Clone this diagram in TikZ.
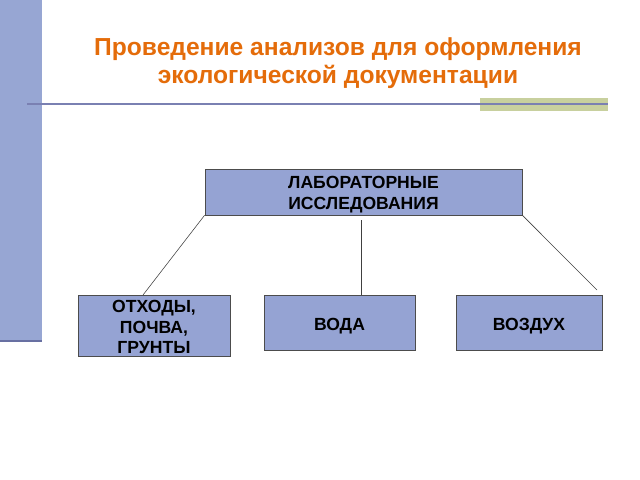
\documentclass[tikz,border=0pt]{standalone}
\usepackage{fontspec}
\setmainfont{Liberation Sans}
\definecolor{titleOrange}{RGB}{228,108,10}
\definecolor{boxBlue}{RGB}{149,163,211}
\definecolor{barBlue}{RGB}{151,166,211}
\definecolor{barEdge}{RGB}{104,112,162}
\definecolor{ruleBlue}{RGB}{122,128,178}
\definecolor{ruleGreen}{RGB}{200,208,158}

\begin{document}
\begin{tikzpicture}[%%
  x=0.025cm,y=-0.025cm,%%
  boxStyle/.style={draw=black!70,fill=boxBlue,inner sep=0pt,align=center,%%
    font=\fontsize{12.5}{14.5}\selectfont\bfseries},%%
  titleStyle/.style={text=titleOrange,align=center,%%
    font=\fontsize{17.5}{20}\selectfont\bfseries},%%
  lineStyle/.style={-,black!75,thin}%%
]
%%
\useasboundingbox (0,0) rectangle (640,480);
%%
%% The bar at the left edge.
\fill[barBlue] (0,0) rectangle (42,341);
\draw[barEdge,line width=1.4pt] (0,341) -- (42,341);
%%
%% The rule under the title.
\fill[ruleGreen] (480,98) rectangle (608,111);
\draw[ruleBlue,line width=0.8pt] (27,104) -- (608,104);
%%
%% The title.
\node[titleStyle] (title) at (338,63)
  {Проведение анализов для оформления\\экологической документации};
%%
%% The boxes.
\node[boxStyle,minimum width=7.93cm,minimum height=1.15cm]
  (lab) at (363.5,192) {\rule{0pt}{12.6pt}ЛАБОРАТОРНЫЕ\\ИССЛЕДОВАНИЯ};
\node[boxStyle,minimum width=3.8cm,minimum height=1.525cm]
  (waste) at (154,325.5) {\rule{0pt}{11pt}ОТХОДЫ,\\ПОЧВА,\\ГРУНТЫ};
\node[boxStyle,minimum width=3.78cm,minimum height=1.375cm,text height=13pt,text depth=1pt]
  (water) at (339.5,322.5) {ВОДА};
\node[boxStyle,minimum width=3.65cm,minimum height=1.375cm,text height=13pt,text depth=1pt]
  (air) at (529,322.5) {ВОЗДУХ};
%%
%% Free ends of the connectors.
\coordinate (wasteEnd) at (143,295);
\coordinate (waterTop) at (361,220);
\coordinate (airEnd) at (597,290);
%%
%% The connectors.
\draw[lineStyle] (lab.south west) -- (wasteEnd);
\draw[lineStyle] (waterTop) -- (waterTop |- water.north);
\draw[lineStyle] (lab.south east) -- (airEnd);
\end{tikzpicture}
\end{document}
